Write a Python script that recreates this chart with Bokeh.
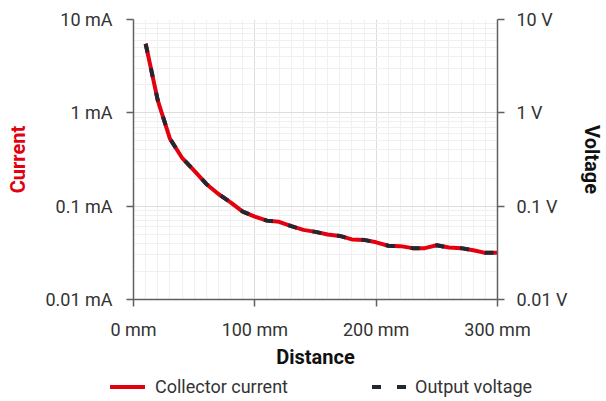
from bokeh.plotting import figure
from bokeh.layouts import column
from bokeh.models import (Range1d, FixedTicker, LogAxis, CustomJSTickFormatter, Div)
from bokeh.embed import file_html
from bokeh.resources import INLINE

# ---- data ----
distance_mm = [10, 20, 30, 40, 50, 60, 70, 80, 90, 100,
               110, 120, 130, 140, 150, 160, 170, 180, 190, 200,
               210, 220, 230, 240, 250, 260, 270, 280, 290, 300]
collector_current_mA = [5.5, 1.36, 0.53, 0.33, 0.24, 0.173, 0.135, 0.110, 0.0875, 0.0774,
                        0.070, 0.068, 0.061, 0.0557, 0.053, 0.0497, 0.048, 0.044, 0.0435, 0.041,
                        0.0377, 0.0373, 0.0355, 0.0355, 0.0381, 0.036, 0.0355, 0.0337, 0.0316, 0.0316]
output_voltage_V = [5.5, 1.36, 0.53, 0.33, 0.24, 0.173, 0.135, 0.110, 0.0875, 0.0774,
                    0.070, 0.068, 0.061, 0.0557, 0.053, 0.0497, 0.048, 0.044, 0.0435, 0.041,
                    0.0377, 0.0373, 0.0355, 0.0355, 0.0381, 0.036, 0.0355, 0.0337, 0.0316, 0.0316]
x_ticks = [0, 100, 200, 300]
y_ticks = [0.01, 0.1, 1, 10]
series_names = ["Collector current", "Output voltage"]

FONT = "Roboto"
TXT = "#333333"
RED = "#e3000f"
DARK = "#23272f"
AXIS = "#606060"
DASH = "9 16"

p = figure(width=606, height=373, output_backend="svg", toolbar_location=None,
           x_range=Range1d(0, 300), y_range=Range1d(0.01, 10), y_axis_type="log",
           min_border_left=133, min_border_right=109, min_border_top=19,
           min_border_bottom=74)
p.outline_line_color = None
p.background_fill_color = "white"
p.border_fill_color = "white"

x_minor = list(range(0, 301, 10))
y_minor = [m * d for d in (0.01, 0.1, 1) for m in range(2, 10)]
xt = FixedTicker(ticks=x_ticks, minor_ticks=x_minor)
yt = FixedTicker(ticks=y_ticks, minor_ticks=y_minor)

xax = p.xaxis[0]
lax = p.yaxis[0]
xax.ticker = xt
lax.ticker = yt
p.xgrid.ticker = xt
p.ygrid.ticker = yt

for g in (p.xgrid, p.ygrid):
    g.grid_line_color = "#dddddd"
    g.grid_line_width = 1
    g.minor_grid_line_color = "#f0f0f0"
    g.minor_grid_line_width = 1

xax.formatter = CustomJSTickFormatter(code="return tick + ' mm';")
lax.formatter = CustomJSTickFormatter(code="return Number(tick.toPrecision(1)) + ' mA';")

rax = LogAxis(ticker=yt,
              formatter=CustomJSTickFormatter(code="return Number(tick.toPrecision(1)) + ' V';"))
p.add_layout(rax, "right")

xax.axis_label = "Distance"
lax.axis_label = "Current"
rax.axis_label = "Voltage"

for ax in (xax, lax, rax):
    ax.axis_line_color = AXIS
    ax.axis_line_width = 1.5
    ax.major_tick_line_color = AXIS
    ax.major_tick_line_width = 1.5
    ax.major_tick_in = 0
    ax.major_tick_out = 7
    ax.minor_tick_line_color = None
    ax.major_label_text_font = FONT
    ax.major_label_text_font_size = "18px"
    ax.major_label_text_color = TXT
    ax.axis_label_text_font = FONT
    ax.axis_label_text_font_size = "20px"
    ax.axis_label_text_font_style = "bold"
    ax.axis_label_text_color = "#111111"

lax.axis_label_text_color = RED
lax.major_label_standoff = 14
lax.axis_label_standoff = 12
rax.major_label_standoff = 12
rax.axis_label_standoff = 9
xax.major_label_standoff = 12
xax.axis_label_standoff = 2

r1 = p.line(distance_mm, collector_current_mA, line_color=RED, line_width=4)
r2 = p.line(distance_mm, output_voltage_V, line_color=DARK, line_width=4,
            line_dash=DASH)

# ---- legend strip below the chart ----
legend_html = f"""
<div style="position:relative;width:606px;height:28px;font-family:{FONT};
            font-size:18px;color:{TXT};white-space:nowrap;">
  <span style="position:absolute;left:110px;top:12px;width:35px;height:4px;
               background:{RED};"></span>
  <span style="position:absolute;left:155px;top:3px;line-height:21px;">{series_names[0]}</span>
  <span style="position:absolute;left:372px;top:12px;width:35px;height:4px;
               background:repeating-linear-gradient(to right,{DARK} 0 9px,transparent 9px 25px);"></span>
  <span style="position:absolute;left:415px;top:3px;line-height:21px;">{series_names[1]}</span>
</div>
"""
lg = Div(text=legend_html, width=606, height=28, margin=0)

layout = column(p, lg, spacing=0)
open("out.html", "w").write(file_html(layout, INLINE))
